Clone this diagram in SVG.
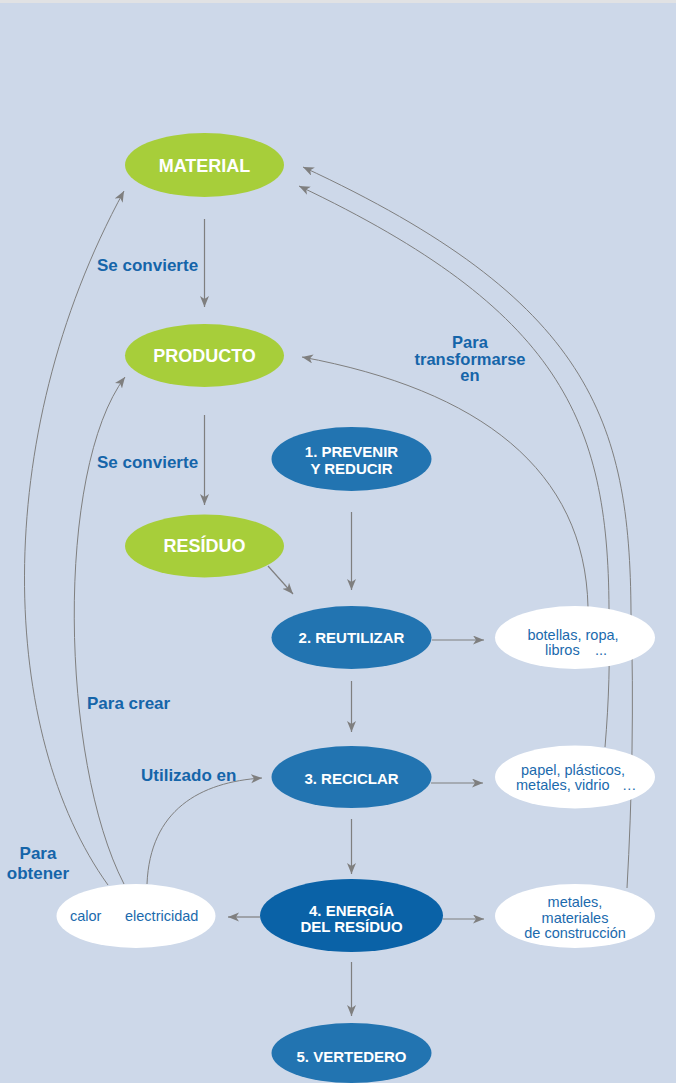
<svg xmlns="http://www.w3.org/2000/svg" width="676" height="1083" viewBox="0 0 676 1083">
<style>
.bg{fill:#cdd8e9}
.green{fill:#a7ce3a}
.blue{fill:#2274b1}
.dblue{fill:#0a62a7}
.white{fill:#ffffff}
.nt{font-family:"Liberation Sans",Arial,sans-serif;font-weight:bold;fill:#ffffff;text-anchor:middle}
.g18{font-size:18px}
.b15{font-size:15px}
.wt{font-family:"Liberation Sans",Arial,sans-serif;font-size:14.5px;fill:#1b6aad;text-anchor:middle}
.lbl{font-family:"Liberation Sans",Arial,sans-serif;font-size:17px;font-weight:bold;fill:#1565a9}
.c{fill:none;stroke:#7f7f7f;stroke-width:1.2}
.cv{fill:none;stroke:#7f7f7f;stroke-width:1}
</style>
<defs>
<marker id="ah" markerUnits="userSpaceOnUse" markerWidth="12" markerHeight="10" refX="11" refY="4.5" orient="auto">
<path d="M0,0 L11,4.5 L0,9 L3,4.5 z" fill="#7f7f7f"/>
</marker>
</defs>
<rect class="bg" x="0" y="0" width="676" height="1083"/>
<rect x="0" y="0" width="676" height="3" fill="#e1e2e4"/>

<g id="connectors">
<line class="c" x1="204.5" y1="219" x2="204.5" y2="307" marker-end="url(#ah)"/>
<line class="c" x1="204.5" y1="415" x2="204.5" y2="505" marker-end="url(#ah)"/>
<line class="c" x1="268" y1="566" x2="293" y2="594" marker-end="url(#ah)"/>
<line class="c" x1="351.5" y1="512" x2="351.5" y2="590" marker-end="url(#ah)"/>
<line class="c" x1="432" y1="640" x2="484" y2="640" marker-end="url(#ah)"/>
<line class="c" x1="351.5" y1="681" x2="351.5" y2="732" marker-end="url(#ah)"/>
<line class="c" x1="431" y1="783" x2="483" y2="783" marker-end="url(#ah)"/>
<line class="c" x1="351.5" y1="819" x2="351.5" y2="874" marker-end="url(#ah)"/>
<line class="c" x1="443" y1="919" x2="484" y2="919" marker-end="url(#ah)"/>
<line class="c" x1="260" y1="917" x2="228" y2="917" marker-end="url(#ah)"/>
<line class="c" x1="351.5" y1="962" x2="351.5" y2="1016" marker-end="url(#ah)"/>
<path class="cv" d="M108,885 C0,735 -12,440 124,191" marker-end="url(#ah)"/>
<path class="cv" d="M124,884 C60,760 55,470 125,377" marker-end="url(#ah)"/>
<path class="cv" d="M147,884 C150,810 200,782 262,778" marker-end="url(#ah)"/>
<path class="cv" d="M588,607 C585,470 480,390 302,357" marker-end="url(#ah)"/>
<path class="cv" d="M605,747 C609,700 610,660 609,608 C608,420 560,310 299,186" marker-end="url(#ah)"/>
<path class="cv" d="M627,888 C632,800 634,700 631,613 C630,420 590,300 303,167" marker-end="url(#ah)"/>
</g>

<g id="material">
<ellipse class="green" cx="204.5" cy="165" rx="79.5" ry="32"/>
<text class="nt g18" x="204.5" y="172">MATERIAL</text>
</g>
<g id="producto">
<ellipse class="green" cx="204.5" cy="355.5" rx="79.5" ry="31.5"/>
<text class="nt g18" x="204.5" y="362">PRODUCTO</text>
</g>
<g id="residuo">
<ellipse class="green" cx="204.5" cy="546" rx="79.5" ry="31.5"/>
<text class="nt g18" x="204.5" y="552">RESÍDUO</text>
</g>
<g id="prevenir">
<ellipse class="blue" cx="351.5" cy="459" rx="80" ry="32"/>
<text class="nt b15" x="351.5" y="457">1. PREVENIR</text>
<text class="nt b15" x="351.5" y="473.5">Y REDUCIR</text>
</g>
<g id="reutilizar">
<ellipse class="blue" cx="351.5" cy="637.5" rx="80" ry="31.5"/>
<text class="nt b15" x="351.5" y="643">2. REUTILIZAR</text>
</g>
<g id="reciclar">
<ellipse class="blue" cx="351.5" cy="777" rx="80" ry="31"/>
<text class="nt b15" x="351.5" y="784">3. RECICLAR</text>
</g>
<g id="energia">
<ellipse class="dblue" cx="351.5" cy="915.5" rx="91.5" ry="36.5"/>
<text class="nt b15" x="351.5" y="916">4. ENERGÍA</text>
<text class="nt b15" x="351.5" y="932">DEL RESÍDUO</text>
</g>
<g id="vertedero">
<ellipse class="blue" cx="351.5" cy="1053" rx="80" ry="30"/>
<text class="nt b15" x="351.5" y="1062">5. VERTEDERO</text>
</g>
<g id="botellas">
<ellipse class="white" cx="575" cy="637.5" rx="80" ry="31.5"/>
<text class="wt" x="573" y="639.5">botellas, ropa,</text>
<text class="wt" x="545" y="655" style="text-anchor:start">libros</text>
<text class="wt" x="595" y="655" style="text-anchor:start">...</text>
</g>
<g id="papel">
<ellipse class="white" cx="575" cy="777" rx="80" ry="31.5"/>
<text class="wt" x="573" y="774.5">papel, plásticos,</text>
<text class="wt" x="516" y="790" style="text-anchor:start">metales, vidrio</text>
<text class="wt" x="622" y="790" style="text-anchor:start">…</text>
</g>
<g id="metales">
<ellipse class="white" cx="575" cy="916" rx="80" ry="32"/>
<text class="wt" x="575" y="907">metales,</text>
<text class="wt" x="575" y="922.5">materiales</text>
<text class="wt" x="575" y="938">de construcción</text>
</g>
<g id="calor">
<ellipse class="white" cx="136" cy="916" rx="79.5" ry="32"/>
<text class="wt" x="70" y="921" style="text-anchor:start">calor</text>
<text class="wt" x="125" y="921" style="text-anchor:start">electricidad</text>
</g>

<g id="labels">
<text class="lbl" x="97" y="271">Se convierte</text>
<text class="lbl" x="97" y="467.5">Se convierte</text>
<text class="lbl" x="470" y="348" text-anchor="middle" style="font-size:16.5px">Para</text>
<text class="lbl" x="470" y="364.5" text-anchor="middle" style="font-size:16.5px">transformarse</text>
<text class="lbl" x="470" y="381" text-anchor="middle" style="font-size:16.5px">en</text>
<text class="lbl" x="87" y="709">Para crear</text>
<text class="lbl" x="141" y="781">Utilizado en</text>
<text class="lbl" x="38" y="859" text-anchor="middle">Para</text>
<text class="lbl" x="38" y="879" text-anchor="middle">obtener</text>
</g>
</svg>
